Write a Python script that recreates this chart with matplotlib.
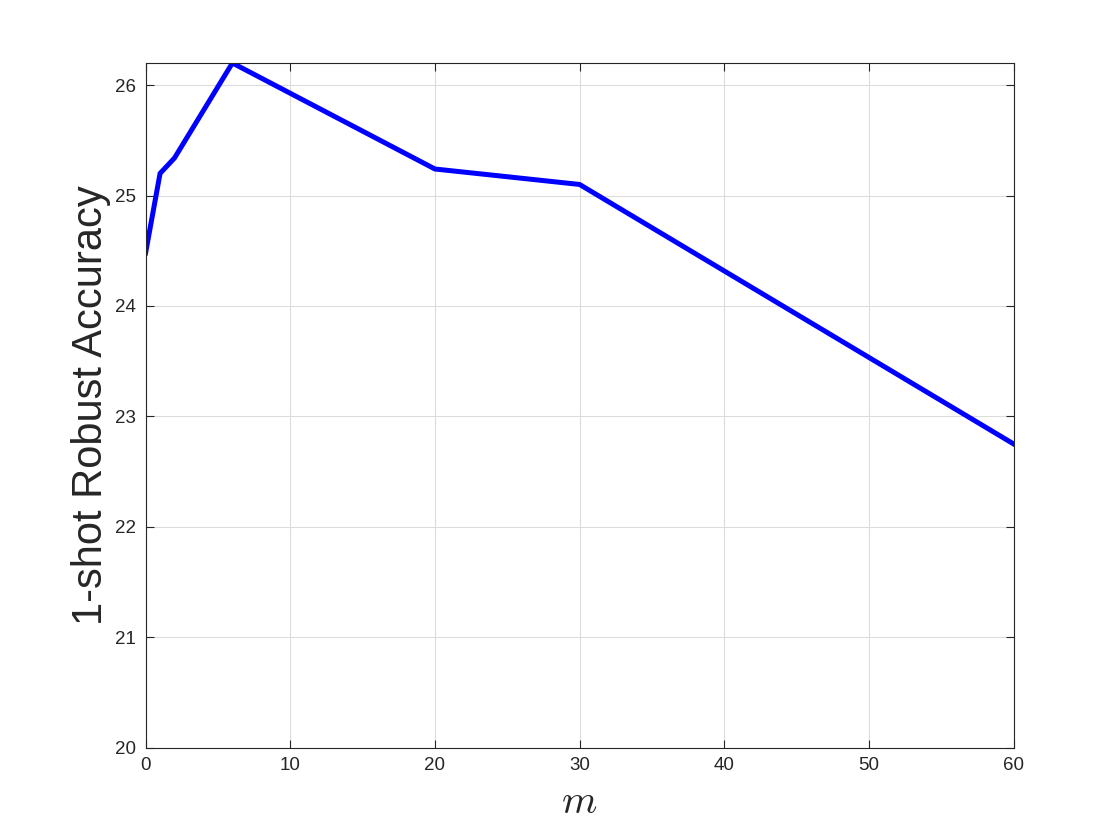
import matplotlib
matplotlib.use("Agg")
import matplotlib.pyplot as plt

m_vals = [0, 1, 2, 6, 20, 30, 60]
acc = [24.48, 25.2, 25.34, 26.2, 25.24, 25.1, 22.75]
xticks = [0, 10, 20, 30, 40, 50, 60]
yticks = [20, 21, 22, 23, 24, 25, 26]

plt.rcParams['font.family'] = ['Liberation Sans', 'DejaVu Sans']
plt.rcParams['mathtext.fontset'] = 'cm'

fig = plt.figure(figsize=(11.2, 8.4), dpi=100)
ax = fig.add_axes([0.13, 0.11, 0.775, 0.815])
ax.plot(m_vals, acc, color='#0000ff', linewidth=3.6, solid_joinstyle='miter')

ax.set_xlim(0, 60)
ax.set_ylim(20, 26.2)
ax.set_xticks(xticks)
ax.set_yticks(yticks)
ax.grid(True, color='#dcdcdc', linewidth=0.8)
ax.set_axisbelow(True)
ax.tick_params(direction='in', top=True, right=True, length=6, width=0.8,
               labelsize=13.5, colors='#262626', pad=7)
for s in ax.spines.values():
    s.set_color('#262626')
    s.set_linewidth(0.8)

ax.set_xlabel('$m$', fontsize=29, color='#262626', labelpad=6)
ax.set_ylabel('1-shot Robust Accuracy', fontsize=30, color='#262626', labelpad=3)

fig.savefig('out.png', dpi=100)
